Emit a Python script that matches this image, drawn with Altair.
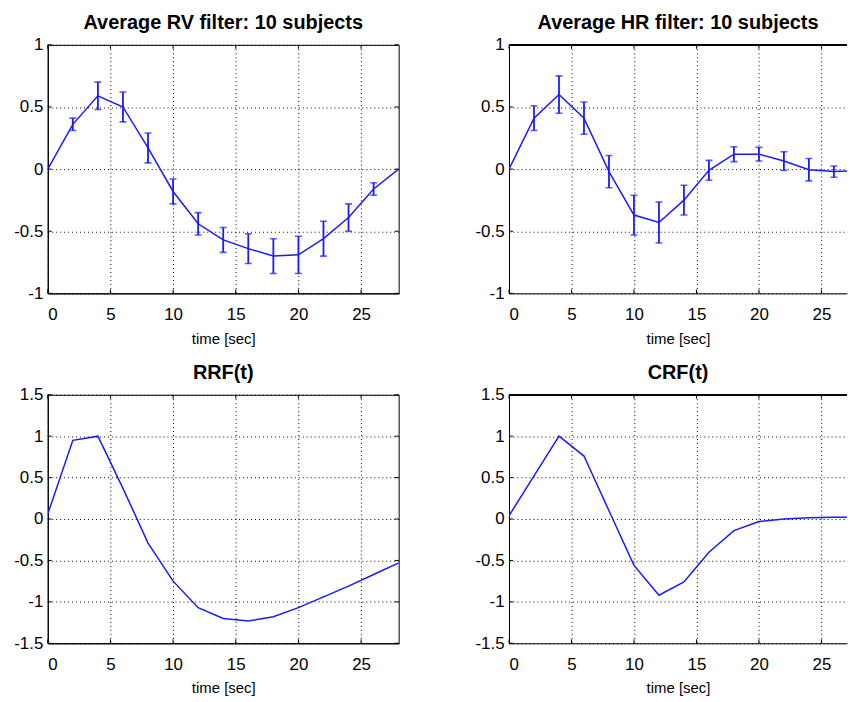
import altair as alt
import pandas as pd

# ---- data ----
t = [0, 2, 4, 6, 8, 10, 12, 14, 16, 18, 20, 22, 24, 26, 28]

rv_mean = [0.0, 0.36, 0.59, 0.50, 0.17, -0.18, -0.44, -0.57, -0.64, -0.70, -0.69, -0.56, -0.39, -0.16, 0.0]
rv_err = [0.0, 0.05, 0.11, 0.12, 0.12, 0.10, 0.09, 0.10, 0.12, 0.14, 0.15, 0.14, 0.11, 0.05, 0.0]

hr_mean = [0.0, 0.41, 0.60, 0.41, -0.02, -0.37, -0.43, -0.25, -0.01, 0.12, 0.12, 0.065, -0.005, -0.02, -0.01]
hr_err = [0.0, 0.10, 0.15, 0.13, 0.13, 0.16, 0.165, 0.12, 0.08, 0.06, 0.055, 0.075, 0.09, 0.045, 0.0]

rrf = [0.06, 0.95, 1.0, 0.37, -0.29, -0.75, -1.07, -1.20, -1.23, -1.18, -1.07, -0.94, -0.81, -0.67, -0.53]
crf = [0.04, 0.52, 1.0, 0.76, 0.10, -0.56, -0.92, -0.76, -0.40, -0.14, -0.03, 0.0, 0.015, 0.02, 0.02]

titles = ["Average RV filter: 10 subjects", "Average HR filter: 10 subjects", "RRF(t)", "CRF(t)"]
x_ticks = [0, 5, 10, 15, 20, 25]
y_ticks_top = [-1, -0.5, 0, 0.5, 1]
y_ticks_bottom = [-1.5, -1, -0.5, 0, 0.5, 1, 1.5]

BLUE = "#1a1aff"
H = 250
TK = 4  # inward tick length (MATLAB style)


def panel(title, vals, errs, ydom, yticks, xmax, width, right):
    xs = alt.Scale(domain=[0, xmax], nice=False, zero=False)
    ys = alt.Scale(domain=ydom, nice=False, zero=False)
    xax = alt.Axis(values=x_ticks, title="time [sec]", grid=True)
    yax = alt.Axis(values=yticks, title=None, grid=True,
                   labelExpr="'' + datum.value")
    df = pd.DataFrame({"t": t, "v": vals})
    line = alt.Chart(df).mark_line(color=BLUE, strokeWidth=1.5, clip=True).encode(
        x=alt.X("t:Q", scale=xs, axis=xax),
        y=alt.Y("v:Q", scale=ys, axis=yax),
    )
    layers = [line]
    if errs is not None:
        rows = [(ti, v - e, v + e) for ti, v, e in zip(t, vals, errs) if e > 0]
        edf = pd.DataFrame(rows, columns=["t", "lo", "hi"])
        bars = alt.Chart(edf).mark_rule(color=BLUE, strokeWidth=1.8, clip=True).encode(
            x=alt.X("t:Q", scale=xs),
            y=alt.Y("lo:Q", scale=ys),
            y2="hi:Q",
        )
        cdf = pd.concat([
            edf[["t"]].assign(c=edf["lo"]),
            edf[["t"]].assign(c=edf["hi"]),
        ])
        caps = alt.Chart(cdf).mark_tick(color=BLUE, orient="horizontal", size=7,
                                        thickness=1.6, clip=True).encode(
            x=alt.X("t:Q", scale=xs),
            y=alt.Y("c:Q", scale=ys),
        )
        layers += [bars, caps]

    # inward tick marks on the box edges
    xt = pd.DataFrame({"x": x_ticks})
    yt = pd.DataFrame({"y": yticks})
    layers.append(alt.Chart(xt).mark_rule(color="black", strokeWidth=1).encode(
        x=alt.X("x:Q", scale=xs), y=alt.value(H), y2=alt.value(H - TK)))
    layers.append(alt.Chart(xt).mark_rule(color="black", strokeWidth=1).encode(
        x=alt.X("x:Q", scale=xs), y=alt.value(0), y2=alt.value(TK)))
    layers.append(alt.Chart(yt).mark_rule(color="black", strokeWidth=1).encode(
        y=alt.Y("y:Q", scale=ys), x=alt.value(0), x2=alt.value(TK)))
    if not right:
        layers.append(alt.Chart(yt).mark_rule(color="black", strokeWidth=1).encode(
            y=alt.Y("y:Q", scale=ys), x=alt.value(width), x2=alt.value(width - TK)))
    else:
        top = alt.Chart(df).mark_rule(color="black", strokeWidth=1).encode(
            x=alt.value(0), x2=alt.value(width), y=alt.value(0)
        )
        layers.append(top)
    ch = alt.layer(*layers).properties(width=width, height=H, title=title)
    if right:
        ch = ch.properties(view=alt.ViewBackground(stroke="transparent"))
    return ch


p1 = panel(titles[0], rv_mean, rv_err, [-1, 1], y_ticks_top, 28, 353, False)
p2 = panel(titles[1], hr_mean, hr_err, [-1, 1], y_ticks_top, 27.05, 340, True)
p3 = panel(titles[2], rrf, None, [-1.5, 1.5], y_ticks_bottom, 28, 353, False)
p4 = panel(titles[3], crf, None, [-1.5, 1.5], y_ticks_bottom, 27.05, 340, True)

chart = alt.concat(
    p1, p2, p3, p4, columns=2, spacing={"row": 102, "column": 111}, bounds="flush"
).properties(
    padding={"left": 5, "top": 2, "right": 0, "bottom": 0}
).configure_view(
    stroke="black", strokeWidth=1
).configure_axis(
    labelFont="Liberation Sans", labelFontSize=17, labelColor="black",
    titleFont="Liberation Sans", titleFontSize=15, titleFontWeight="normal", titleColor="black",
    gridColor="black", gridDash=[1, 3], gridWidth=1, gridOpacity=1,
    ticks=False, domain=True, domainColor="black", domainWidth=1,
).configure_axisY(
    labelPadding=5
).configure_axisX(
    labelPadding=13, titlePadding=9
).configure_title(
    font="Liberation Sans", fontSize=20, fontWeight="bold", color="black", offset=3
)

chart.save("out.html", embed_options={"renderer": "svg", "actions": False})
